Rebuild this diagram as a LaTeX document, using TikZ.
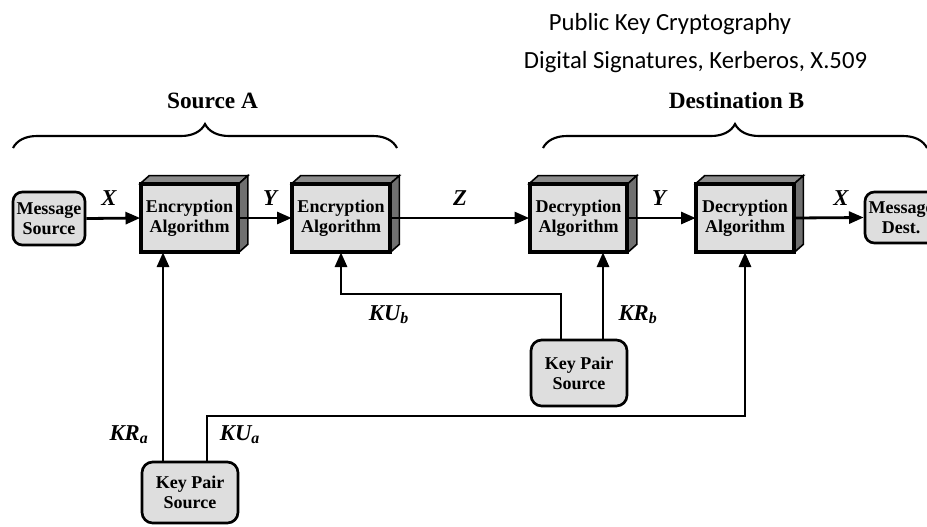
\documentclass[tikz,border=0pt]{standalone}
\usepackage{fontspec}
\setmainfont{Liberation Serif}
\newfontfamily\titlefont{Carlito}
\usetikzlibrary{arrows.meta,decorations.pathreplacing}
\definecolor{facegray}{HTML}{DEDEDE}
\definecolor{topgray}{HTML}{8C8C8C}
\definecolor{sidegray}{HTML}{707070}
\tikzset{
 algbox/.style={draw=black, line width=2pt, fill=facegray, minimum width=72pt, minimum height=49.5pt, inner sep=0pt, align=center, font=\fontsize{13.5}{15}\selectfont\bfseries},
 roundbox/.style={algbox, rounded corners=7pt},
 arr/.style={line width=2.1pt, -{Triangle[length=11pt,width=9pt]}},
 lbl/.style={font=\fontsize{17}{19}\selectfont\bfseries\itshape, inner sep=0pt, anchor=base},
 head/.style={font=\fontsize{17.5}{20}\selectfont\bfseries, inner sep=0pt, anchor=base},
 ttl/.style={font=\titlefont\fontsize{18.5}{22}\selectfont, inner sep=0pt, anchor=base},
 bracestyle/.style={line width=1.6pt, decorate, decoration={brace, amplitude=18pt}},
}
\newcommand{\solidfaces}[1]{%
 \filldraw[fill=topgray, line width=1.2pt] (#1.north west) -- ([shift={(9,-8)}]#1.north west) -- ([shift={(9,-8)}]#1.north east) -- (#1.north east) -- cycle;
 \filldraw[fill=sidegray, line width=1.2pt] (#1.north east) -- ([shift={(9,-8)}]#1.north east) -- ([shift={(9,-8)}]#1.south east) -- (#1.south east) -- cycle;
 \draw[line width=2pt] (#1.south west) rectangle (#1.north east);
}
\begin{document}
\begin{tikzpicture}[x=0.75pt,y=-0.75pt]
\path[use as bounding box] (0,0) rectangle (927,526);
\clip (0,0) rectangle (927,526);
% titles
\node[ttl] (t1) at (670,30) {Public Key Cryptography};
\node[ttl] (t2) at (695.5,68) {Digital Signatures, Kerberos, X.509};
% headings and braces
\node[head] (srcA) at (212.5,108) {Source A};
\node[head] (dstB) at (736.5,108) {Destination B};
\draw[bracestyle] (13,148) -- (397,148);
\draw[bracestyle] (543,148) -- (927,148);
% boxes
\node[roundbox, minimum width=54pt, minimum height=39.75pt] (ms) at (49,218.5) {Message\\Source};
\node[algbox] (enc1) at (189.5,218) {Encryption\\Algorithm};
\node[algbox] (enc2) at (341,218) {Encryption\\Algorithm};
\node[algbox] (dec1) at (578.5,218) {Decryption\\Algorithm};
\node[algbox] (dec2) at (745,218) {Decryption\\Algorithm};
\node[roundbox, minimum width=54pt, minimum height=38.25pt] (md) at (901,217.5) {Message\\Dest.};
\node[roundbox, minimum height=45.75pt, rounded corners=8pt] (kpa) at (190,492.5) {Key Pair\\Source};
\node[roundbox, rounded corners=8pt] (kpb) at (579,373) {Key Pair\\Source};
\solidfaces{enc1}
\solidfaces{enc2}
\solidfaces{dec1}
\solidfaces{dec2}
% main flow
\draw[arr] (ms.east) -- (enc1.west);
\draw[arr] (enc1.east) -- (enc2.west);
\draw[arr] (enc2.east) -- (dec1.west);
\draw[arr] (dec1.east) -- (dec2.west);
\draw[arr] (dec2.east) -- (md.west);
% key connectors
\draw[arr] (kpa.north -| 163,0) -- (enc1.south -| 163,0);
\draw[arr] (kpa.north -| 207,0) |- (dec2.south |- 0,416) -- (dec2.south);
\draw[arr] (kpb.north -| 561,0) |- (enc2.south |- 0,294) -- (enc2.south);
\draw[arr] (kpb.north -| 603,0) -- (dec1.south -| 603,0);
% labels
\node[lbl] (lx1) at (109,205) {X};
\node[lbl] (ly1) at (270,205) {Y};
\node[lbl] (lz) at (460,205) {Z};
\node[lbl] (ly2) at (659,205) {Y};
\node[lbl] (lx2) at (841,205) {X};
\node[lbl] (lkub) at (389,320) {KU\textsubscript{b}};
\node[lbl] (lkrb) at (638,320) {KR\textsubscript{b}};
\node[lbl] (lkra) at (129,440) {KR\textsubscript{a}};
\node[lbl] (lkua) at (240,440) {KU\textsubscript{a}};
\end{tikzpicture}
\end{document}
